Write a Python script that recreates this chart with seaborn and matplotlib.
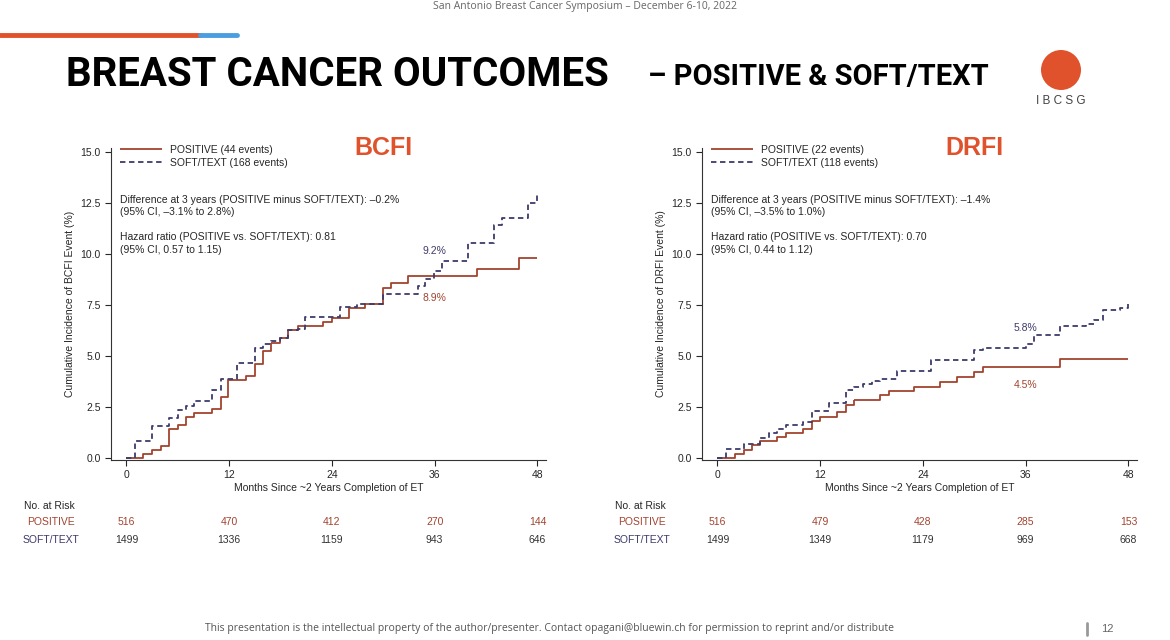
import numpy as np
import pandas as pd
import seaborn as sns
import matplotlib.pyplot as plt
from matplotlib.patches import Ellipse

# BCFI step curves (months, cumulative incidence %)
bcfi_pos_t = [0, 1.9, 3.0, 4.0, 5.0, 6.0, 7.0, 7.9, 10.0, 11.0, 11.9, 14.0, 15.0, 15.9, 16.9, 17.9, 18.9,
              20.0, 22.9, 24.0, 26.0, 27.9, 30.0, 30.9, 32.9, 40.9, 45.9, 48]
bcfi_pos_y = [0, 0.19, 0.39, 0.6, 1.41, 1.6, 2.0, 2.2, 2.4, 3.0, 3.8, 4.0, 4.6, 5.24, 5.63, 5.86, 6.26,
              6.47, 6.67, 6.88, 7.36, 7.56, 8.33, 8.6, 8.93, 9.29, 9.8, 9.8]
bcfi_soft_t = [0, 1.0, 3.0, 5.0, 6.0, 7.0, 7.9, 10.0, 11.0, 12.9, 15.0, 15.9, 16.9, 17.9, 18.9, 20.0, 20.9,
               24.9, 26.9, 30.0, 34.0, 34.9, 35.9, 36.9, 39.9, 42.9, 43.9, 46.9, 47.9, 48]
bcfi_soft_y = [0, 0.84, 1.57, 1.97, 2.36, 2.57, 2.78, 3.35, 3.88, 4.64, 5.4, 5.6, 5.73, 5.9, 6.26, 6.34, 6.9,
               7.4, 7.56, 8.04, 8.45, 8.77, 9.17, 9.66, 10.55, 11.44, 11.76, 12.5, 12.9, 12.9]

# DRFI step curves
drfi_pos_t = [0, 2, 3.1, 4, 5, 7, 8, 10, 11, 12, 14, 15, 16, 19, 20, 23, 26, 28, 30, 31, 40, 48]
drfi_pos_y = [0, 0.19, 0.39, 0.63, 0.84, 1.05, 1.23, 1.44, 1.81, 2.02, 2.25, 2.62, 2.86, 3.07, 3.3, 3.46,
              3.72, 3.95, 4.2, 4.48, 4.85, 4.85]
drfi_soft_t = [0, 1, 3.1, 5, 6, 7, 8, 10, 11, 13, 15, 16, 17, 18, 19, 21, 25, 30, 31, 36, 37, 40, 43, 44,
               45, 47, 48]
drfi_soft_y = [0, 0.44, 0.68, 1.0, 1.2, 1.41, 1.62, 1.78, 2.3, 2.7, 3.35, 3.5, 3.64, 3.79, 3.88, 4.27, 4.8,
               5.29, 5.4, 5.61, 6.05, 6.47, 6.58, 6.75, 7.28, 7.35, 7.56]

risk_months = [0, 12, 24, 36, 48]
bcfi_risk_pos = [516, 470, 412, 270, 144]
bcfi_risk_soft = [1499, 1336, 1159, 943, 646]
drfi_risk_pos = [516, 479, 428, 285, 153]
drfi_risk_soft = [1499, 1349, 1179, 969, 668]

RED = "#a3432f"
NAVY = "#3d3b6b"
ORANGE = "#e0522b"

sns.set_style("white")
plt.rcParams['font.family'] = ['Liberation Sans', 'DejaVu Sans']

fig = plt.figure(figsize=(11.7, 6.4), dpi=100)
W, H = 1170, 640


def fx(px):
    return px / W


def fy(py):
    return 1 - py / H


fig.text(0.5, fy(7), "San Antonio Breast Cancer Symposium – December 6-10, 2022", ha="center", va="center",
         fontsize=7.5, color="#666666", family=["Open Sans", "DejaVu Sans"])
fig.add_artist(plt.Line2D([0, fx(200)], [fy(35), fy(35)], color=ORANGE, lw=3.5))
fig.add_artist(plt.Line2D([fx(200), fx(237)], [fy(35), fy(35)], color="#4a9ee0", lw=3.5))
fig.text(fx(66), fy(75), "BREAST CANCER OUTCOMES", ha="left", va="center", fontsize=29,
         fontweight="bold", family=["Roboto", "Liberation Sans"], color="black")
fig.text(fx(648), fy(77), "– POSITIVE & SOFT/TEXT", ha="left", va="center", fontsize=21,
         fontweight="bold", family=["Roboto", "Liberation Sans"], color="black")
fig.add_artist(Ellipse((fx(1061), fy(70)), 40 / W, 40 / H, transform=fig.transFigure, color=ORANGE, ec="none"))
fig.text(fx(1061), fy(101), "I B C S G", ha="center", va="center", fontsize=8.5, color="#444444")
fig.text(0.47, fy(629), "This presentation is the intellectual property of the author/presenter. Contact "
         "opagani@bluewin.ch for permission to reprint and/or distribute", ha="center", va="center",
         fontsize=7.5, color="#555555", family=["Open Sans", "DejaVu Sans"])
fig.add_artist(plt.Line2D([fx(1087), fx(1087)], [fy(623), fy(635)], color="#999999", lw=2))
fig.text(fx(1107), fy(629), "12", ha="center", va="center", fontsize=8, color="#666666")

panels = [
    (111, "BCFI", bcfi_pos_t, bcfi_pos_y, bcfi_soft_t, bcfi_soft_y, 44, 168,
     ("–0.2%", "–3.1% to 2.8%"), ("0.81", "0.57 to 1.15"), (36, 10.0, "9.2%"), (36, 7.7, "8.9%"),
     bcfi_risk_pos, bcfi_risk_soft),
    (702, "DRFI", drfi_pos_t, drfi_pos_y, drfi_soft_t, drfi_soft_y, 22, 118,
     ("–1.4%", "–3.5% to 1.0%"), ("0.70", "0.44 to 1.12"), (36, 6.25, "5.8%"), (36, 3.45, "4.5%"),
     drfi_risk_pos, drfi_risk_soft),
]

for (left, name, pt, py, st, sy, pe, se, diff, hr, lab_s, lab_p, rp, rs) in panels:
    ax = fig.add_axes([fx(left), fy(460), 435 / W, 312 / H])
    df = pd.concat([
        pd.DataFrame({"t": pt, "y": py, "g": "POSITIVE (%d events)" % pe}),
        pd.DataFrame({"t": st, "y": sy, "g": "SOFT/TEXT (%d events)" % se}),
    ])
    sns.lineplot(data=df, x="t", y="y", hue="g", style="g", ax=ax, drawstyle="steps-post",
                 palette=[RED, NAVY], dashes=[(1, 0), (3, 2)], lw=1.3, estimator=None)
    ax.set_xlim(-1.8, 49)
    ax.set_ylim(-0.1, 15.2)
    ax.set_xticks([0, 12, 24, 36, 48])
    ax.set_yticks([0, 2.5, 5, 7.5, 10, 12.5, 15])
    ax.set_yticklabels(["%.1f" % v for v in ax.get_yticks()])
    ax.tick_params(labelsize=7.5, length=4, direction="out", left=True, bottom=True, width=0.8)
    for s in ["top", "right"]:
        ax.spines[s].set_visible(False)
    for s in ["left", "bottom"]:
        ax.spines[s].set_color("#333333")
        ax.spines[s].set_linewidth(0.8)
    ax.set_xlabel("Months Since ~2 Years Completion of ET", fontsize=7.5, labelpad=2)
    ax.set_ylabel("Cumulative Incidence of %s Event (%%)" % name, fontsize=7.5)
    leg = ax.legend(loc="upper left", frameon=False, fontsize=7.5, bbox_to_anchor=(0.0, 1.04),
                    handlelength=4, labelspacing=0.3)
    for line in leg.get_lines():
        line.set_linewidth(1.3)
    ax.text(0.56, 1.0, name, transform=ax.transAxes, color=ORANGE, fontsize=18, weight="bold",
            ha="left", va="center")
    ax.text(0.02, 0.85, "Difference at 3 years (POSITIVE minus SOFT/TEXT): %s\n(95%% CI, %s)" % diff,
            transform=ax.transAxes, fontsize=7.5, va="top", linespacing=1.3)
    ax.text(0.02, 0.73, "Hazard ratio (POSITIVE vs. SOFT/TEXT): %s\n(95%% CI, %s)" % hr,
            transform=ax.transAxes, fontsize=7.5, va="top", linespacing=1.3)
    ax.text(lab_s[0], lab_s[1], lab_s[2], color=NAVY, fontsize=7.5, ha="center")
    ax.text(lab_p[0], lab_p[1], lab_p[2], color=RED, fontsize=7.5, ha="center")
    # numbers at risk
    ax.text(-12, -2.35, "No. at Risk", fontsize=7.5, ha="left", va="center", clip_on=False)
    ax.text(-8.8, -3.15, "POSITIVE", fontsize=7.5, ha="center", va="center", color=RED, clip_on=False)
    ax.text(-8.8, -4.0, "SOFT/TEXT", fontsize=7.5, ha="center", va="center", color=NAVY, clip_on=False)
    for m, a, b in zip(risk_months, rp, rs):
        ax.text(m, -3.15, str(a), fontsize=7.5, ha="center", va="center", color=RED, clip_on=False)
        ax.text(m, -4.0, str(b), fontsize=7.5, ha="center", va="center", color="#333333", clip_on=False)

fig.savefig("out.png", dpi=100)
